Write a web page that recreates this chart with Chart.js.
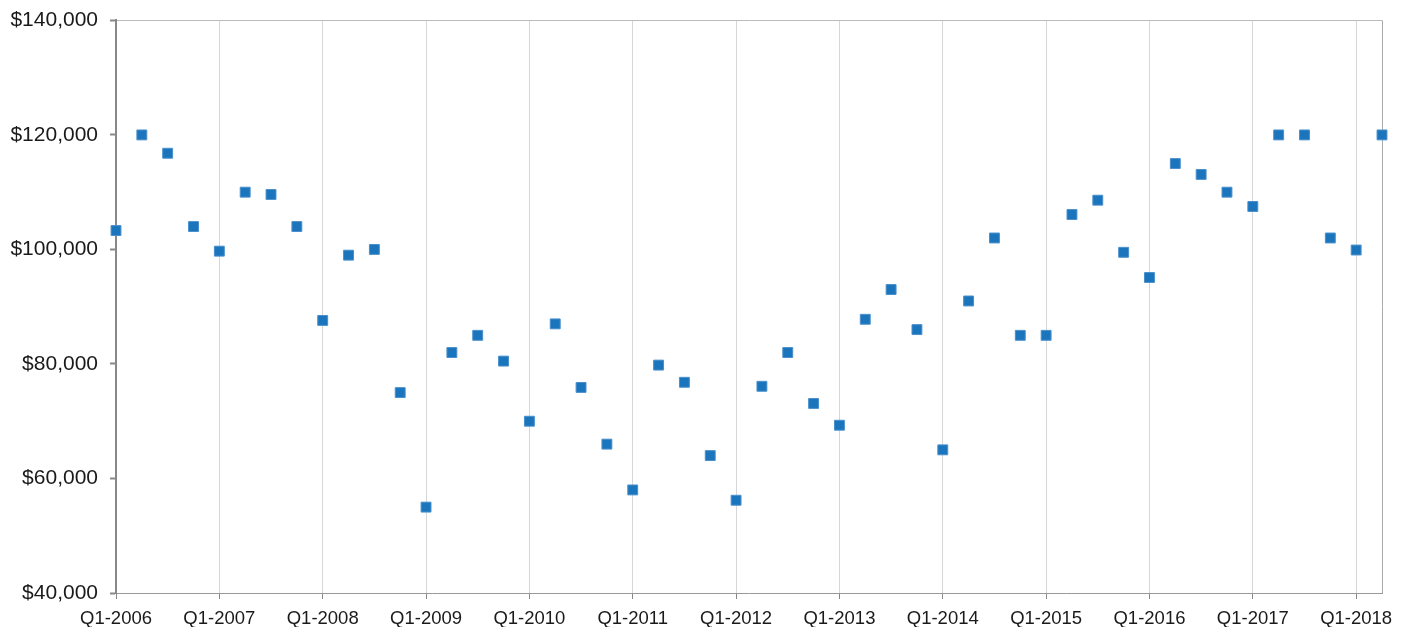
<!DOCTYPE html>
<html>
<head>
<meta charset="utf-8">
<script src="https://cdn.jsdelivr.net/npm/chart.js@4"></script>
<style>
  html, body { margin: 0; padding: 0; background: #fff; }
  #wrap { width: 1411px; height: 627px; position: relative; }
</style>
</head>
<body>
<div id="wrap"><canvas id="chart"></canvas></div>
<script>
// quarters Q1-2006 .. Q2-2018
const quarters = [
  'Q1-2006','Q2-2006','Q3-2006','Q4-2006',
  'Q1-2007','Q2-2007','Q3-2007','Q4-2007',
  'Q1-2008','Q2-2008','Q3-2008','Q4-2008',
  'Q1-2009','Q2-2009','Q3-2009','Q4-2009',
  'Q1-2010','Q2-2010','Q3-2010','Q4-2010',
  'Q1-2011','Q2-2011','Q3-2011','Q4-2011',
  'Q1-2012','Q2-2012','Q3-2012','Q4-2012',
  'Q1-2013','Q2-2013','Q3-2013','Q4-2013',
  'Q1-2014','Q2-2014','Q3-2014','Q4-2014',
  'Q1-2015','Q2-2015','Q3-2015','Q4-2015',
  'Q1-2016','Q2-2016','Q3-2016','Q4-2016',
  'Q1-2017','Q2-2017','Q3-2017','Q4-2017',
  'Q1-2018','Q2-2018'
];

const prices = [
  103300, 120000, 116800, 104000,
  99700, 110000, 109600, 104000,
  87600, 99000, 100000, 75000,
  55000, 82000, 85000, 80500,
  70000, 87000, 75900, 66000,
  58000, 79800, 76800, 64000,
  56200, 76100, 82000, 73100,
  69300, 87800, 93000, 86000,
  65000, 91000, 102000, 85000,
  85000, 106100, 108600, 99500,
  95100, 115000, 113100, 110000,
  107500, 120000, 120000, 102000,
  99900, 120000
];

const yTicks = [40000, 60000, 80000, 100000, 120000, 140000];

const isYearStart = i => quarters[i] && quarters[i].startsWith('Q1');

const ctx = document.getElementById('chart');
new Chart(ctx.getContext('2d'), {
  type: 'line',
  data: {
    labels: quarters,
    datasets: [{
      data: prices,
      showLine: false,
      pointStyle: 'rect',
      pointRadius: 7,
      pointHoverRadius: 7,
      pointBackgroundColor: '#1b75bc',
      pointBorderColor: '#4a90cc',
      pointBorderWidth: 1,
      clip: false
    }]
  },
  options: {
    responsive: true,
    maintainAspectRatio: false,
    animation: false,
    layout: { autoPadding: false, padding: { top: 20, right: 29, left: 0, bottom: 0 } },
    plugins: { legend: { display: false }, tooltip: { enabled: false } },
    scales: {
      x: {
        offset: false,
        border: { color: '#999', width: 1 },
        grid: {
          color: c => c.index === quarters.length - 1 ? '#aaa' : (isYearStart(c.index) ? '#d6d6d6' : 'rgba(0,0,0,0)'),
          tickColor: c => isYearStart(c.index) ? '#888' : 'rgba(0,0,0,0)',
          tickLength: 6,
          drawOnChartArea: true
        },
        ticks: {
          autoSkip: false,
          maxRotation: 0,
          minRotation: 0,
          padding: 9,
          color: '#1a1a1a',
          font: { family: 'Liberation Sans, Arial, sans-serif', size: 18.5 },
          callback: function(v, i) { return isYearStart(i) ? quarters[i] : ''; }
        },
        afterFit: s => { s.height = 34; }
      },
      y: {
        min: 40000,
        max: 140000,
        afterBuildTicks: s => { s.ticks = yTicks.map(v => ({ value: v })); },
        border: { color: '#888', width: 2 },
        grid: {
          color: c => c.tick && c.tick.value === 140000 ? '#bbb' : 'rgba(0,0,0,0)',
          tickColor: '#888',
          tickWidth: 2,
          tickLength: 6
        },
        ticks: {
          padding: 12,
          color: '#1a1a1a',
          font: { family: 'Liberation Sans, Arial, sans-serif', size: 21, lineHeight: 0.8 },
          callback: v => '$' + v.toLocaleString('en-US')
        },
        afterFit: s => { s.width = 116; }
      }
    }
  }
});
</script>
</body>
</html>
